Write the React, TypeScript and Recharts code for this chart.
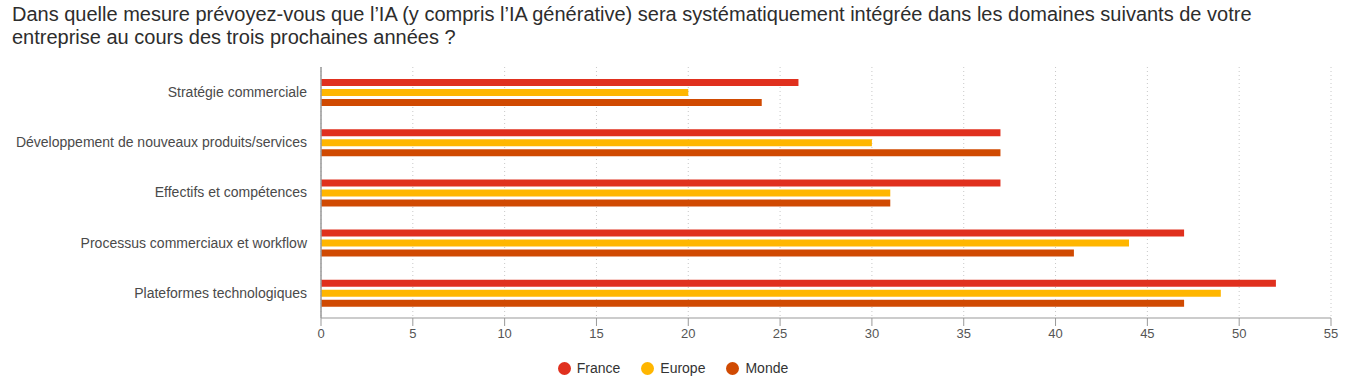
import { Bar, BarChart, CartesianGrid, XAxis, YAxis } from "recharts";

const categories = [
  "Stratégie commerciale",
  "Développement de nouveaux produits/services",
  "Effectifs et compétences",
  "Processus commerciaux et workflow",
  "Plateformes technologiques",
];
const france = [26, 37, 37, 47, 52];
const europe = [20, 30, 31, 44, 49];
const monde = [24, 37, 31, 41, 47];
const xTicks = [0, 5, 10, 15, 20, 25, 30, 35, 40, 45, 50, 55];

const SERIES = [
  { key: "France", color: "#E0301E" },
  { key: "Europe", color: "#FFB600" },
  { key: "Monde", color: "#D04A02" },
];

const FONT = "'Liberation Sans', Arial, Helvetica, sans-serif";

export default function App() {
  const data = categories.map((name, i) => ({ name, France: france[i], Europe: europe[i], Monde: monde[i] }));

  return (
    <div style={{ position: "absolute", left: 0, top: 0, width: 1368, height: 390, background: "#fff", fontFamily: FONT }}>
      <div style={{ position: "absolute", left: 12, top: 3, fontSize: 20, lineHeight: "23px", color: "#2d2d2d", width: 1350, whiteSpace: "nowrap" }}>
        Dans quelle mesure prévoyez-vous que l’IA (y compris l’IA générative) sera systématiquement intégrée dans les domaines suivants de votre
        <br />
        entreprise au cours des trois prochaines années ?
      </div>
      <BarChart
        width={1368}
        height={390}
        data={data}
        layout="vertical"
        margin={{ top: 67, right: 37, left: 0, bottom: 42 }}
        barSize={7}
        barGap={3}
      >
        <CartesianGrid horizontal={false} stroke="#c8c8c8" strokeDasharray="1 3" />
        <XAxis
          type="number"
          domain={[0, 55]}
          ticks={xTicks}
          height={30}
          stroke="#999"
          tickSize={8}
          tickMargin={3}
          tick={{ fontSize: 13, fill: "#555", fontFamily: FONT }}
        />
        <YAxis
          type="category"
          dataKey="name"
          width={321}
          stroke="#999"
          strokeWidth={1.5}
          tickLine={false}
          tickSize={0}
          tickMargin={14}
          tick={{ fontSize: 14, fill: "#4a4a4a", fontFamily: FONT }}
        />
        {SERIES.map((s) => (
          <Bar key={s.key} dataKey={s.key} fill={s.color} isAnimationActive={false} />
        ))}
      </BarChart>
      <div
        style={{
          position: "absolute",
          top: 359,
          left: 0,
          width: 1346,
          display: "flex",
          justifyContent: "center",
          gap: 21,
          fontSize: 14,
          lineHeight: "18px",
          color: "#333",
        }}
      >
        {SERIES.map((s) => (
          <div key={s.key} style={{ display: "flex", alignItems: "center" }}>
            <span style={{ width: 13, height: 13, borderRadius: "50%", background: s.color, display: "inline-block", marginRight: 6 }} />
            {s.key}
          </div>
        ))}
      </div>
    </div>
  );
}
